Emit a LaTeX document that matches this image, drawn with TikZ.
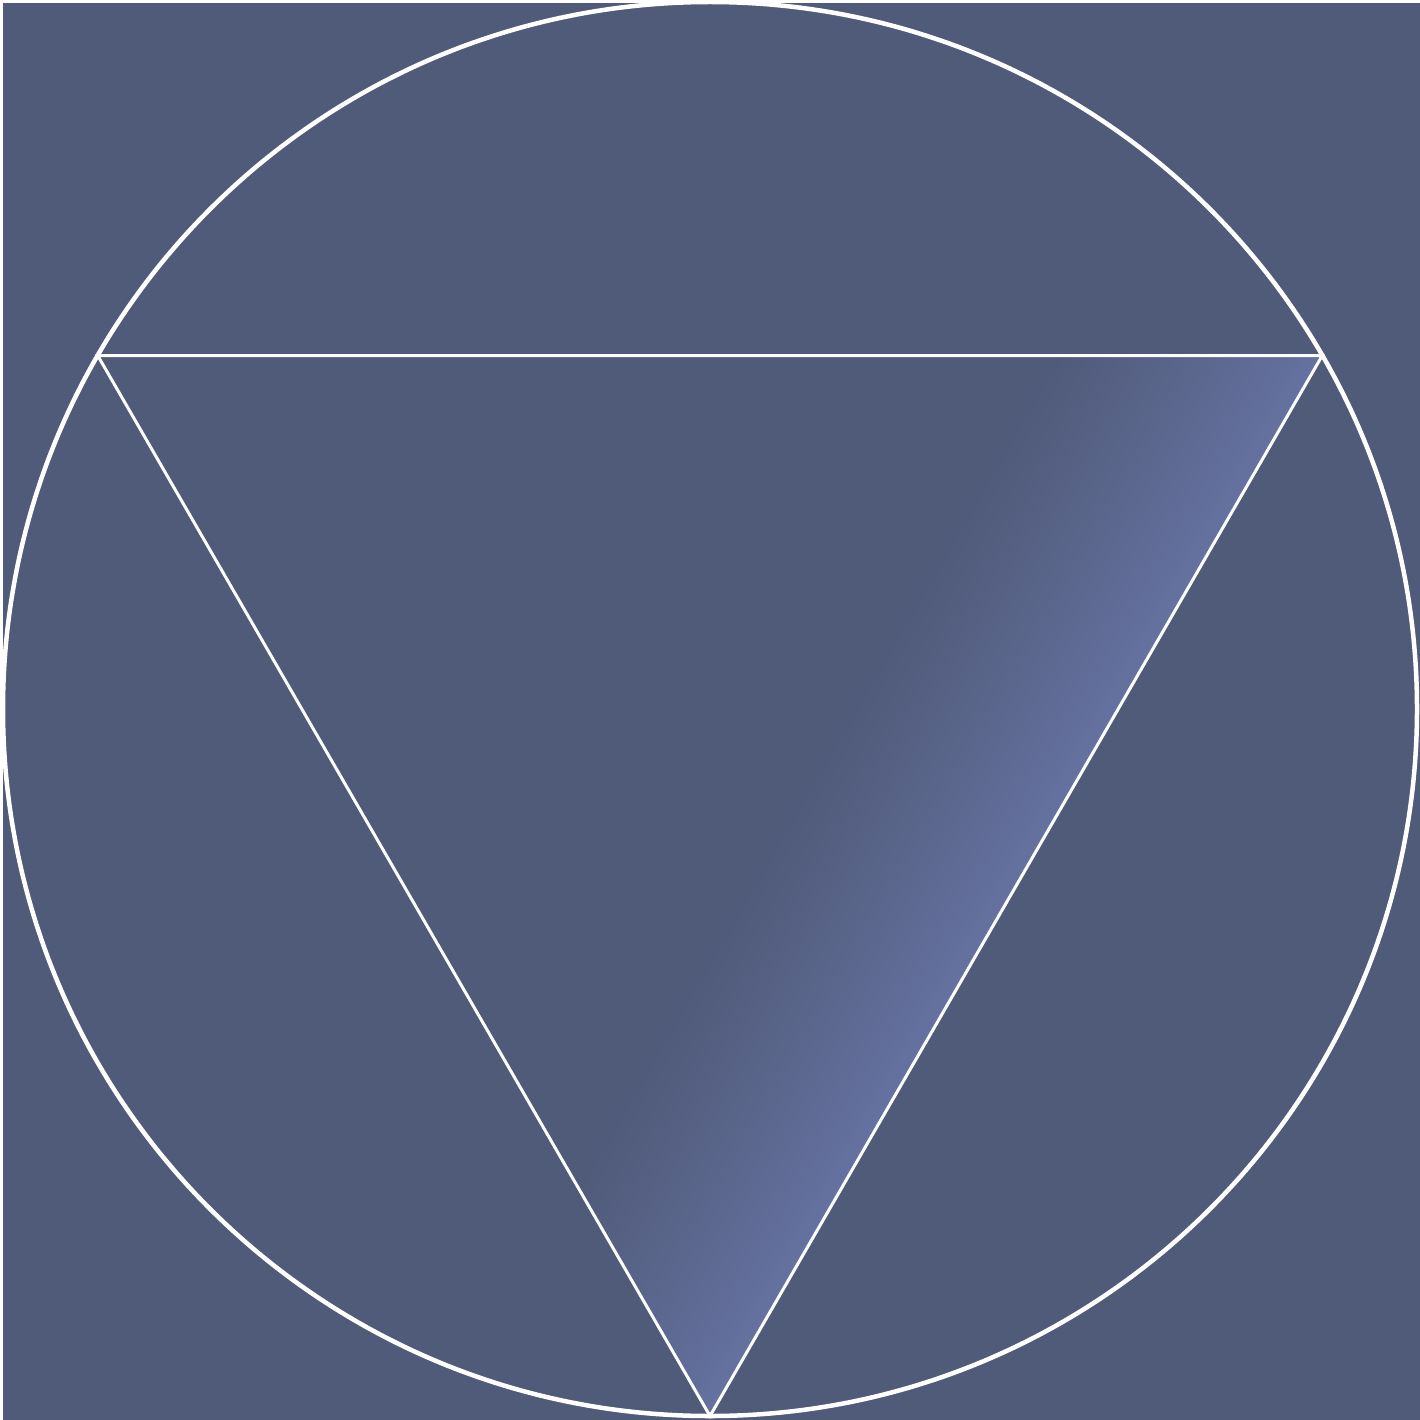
\documentclass[tikz,border=0pt]{standalone}
\usetikzlibrary{calc}
\begin{document}
\definecolor{bgdark}{RGB}{80,90,121}
\definecolor{glight}{RGB}{101,113,159}
\begin{tikzpicture}[x=1pt,y=-1pt,
  ring/.style={draw=white,line width=4.5pt},
  tri/.style={draw=white,line width=3pt,line join=miter}]
\useasboundingbox (0,0) rectangle (1420,1420);
\fill[white] (0,0) rectangle (1420,1420);
\fill[bgdark] (3,3) rectangle (1420,1420);
\coordinate (O) at (710,709);
\coordinate (A) at (97.7,355.5);
\coordinate (B) at (1322.3,355.5);
\coordinate (C) at (710,1416);
\coordinate (B1) at ($(B)+(100,-173.2)$);
\coordinate (C1) at ($(C)+(-100,173.2)$);
\begin{scope}
  \clip (A) -- (B) -- (C) -- cycle;
  \fill[glight] ($(B1)+(17.3,10)$) -- ($(C1)+(17.3,10)$) -- (C1) -- (B1) -- cycle;
  \foreach \i in {0,...,89}{
    \pgfmathsetmacro\da{2.5556*\i}
    \pgfmathsetmacro\db{2.5556*\i+3.4}
    \pgfmathsetmacro\t{100-1.1111*(\i+0.5)}
    \fill[glight!\t!bgdark] ($(B1)+(-0.866*\da,-0.5*\da)$) -- ($(C1)+(-0.866*\da,-0.5*\da)$) -- ($(C1)+(-0.866*\db,-0.5*\db)$) -- ($(B1)+(-0.866*\db,-0.5*\db)$) -- cycle;
  }
\end{scope}
\draw[ring] (O) circle[radius=707];
\draw[tri] (A) -- (B) -- (C) -- cycle;
\end{tikzpicture}
\end{document}
